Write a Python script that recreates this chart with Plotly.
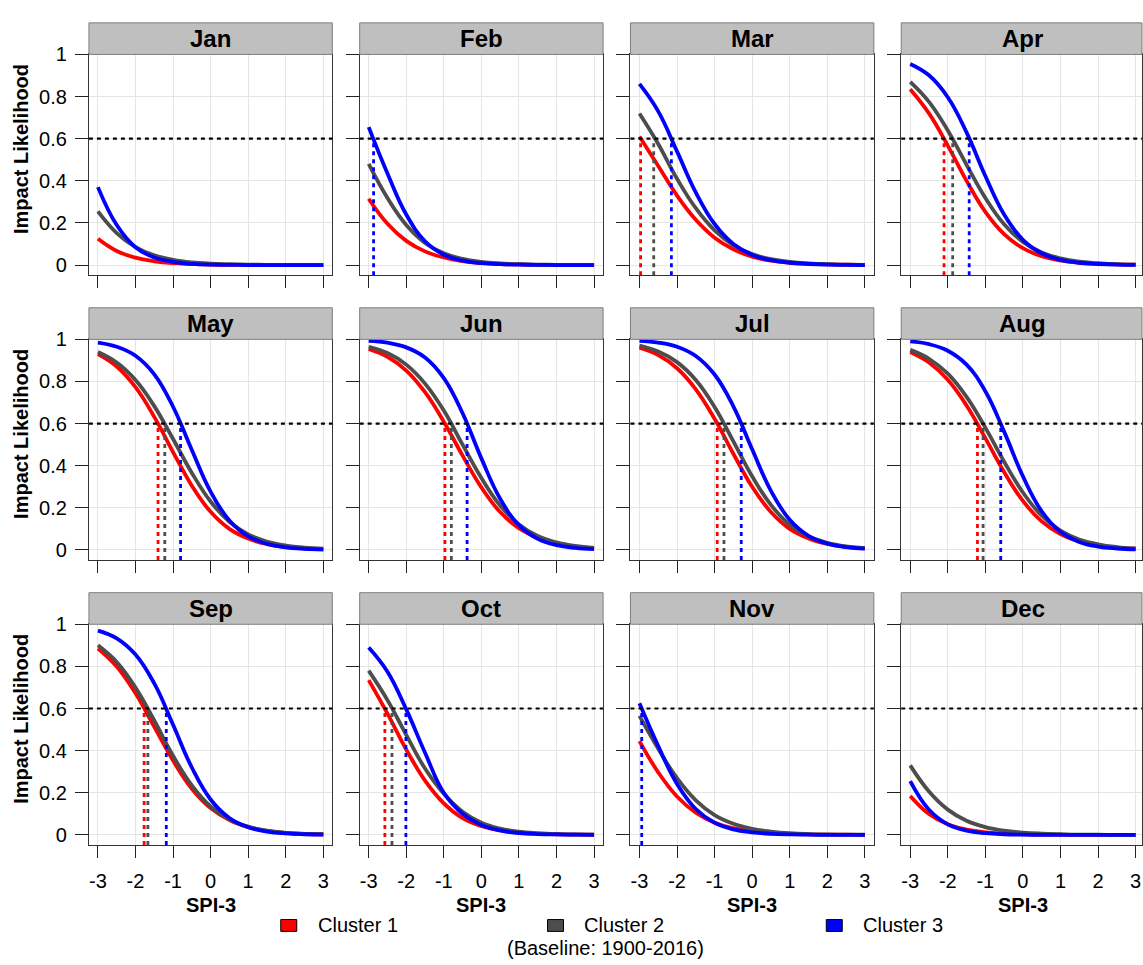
import plotly.graph_objects as go

# ---------------- data ----------------
MONTHS = ["Jan", "Feb", "Mar", "Apr", "May", "Jun",
          "Jul", "Aug", "Sep", "Oct", "Nov", "Dec"]
SPI = [-3, -2.5, -2, -1.5, -1, -0.5, 0, 0.5, 1, 1.5, 2, 2.5, 3]
CLUSTERS = ["Cluster 1", "Cluster 2", "Cluster 3"]
COLORS = ["#FF0000", "#4D4D4D", "#0000FF"]
THRESHOLD = 0.6

C1_VALUES = [
    [0.125, 0.067, 0.035, 0.018, 0.009, 0.005, 0.002, 0.001, 0.001, 0.0, 0.0, 0.0, 0.0],
    [0.315, 0.196, 0.115, 0.065, 0.036, 0.019, 0.010, 0.005, 0.003, 0.001, 0.001, 0.0, 0.0],
    [0.61, 0.47, 0.33, 0.215, 0.13, 0.075, 0.04, 0.021, 0.011, 0.006, 0.003, 0.002, 0.001],
    [0.835, 0.72, 0.567, 0.40, 0.253, 0.147, 0.08, 0.042, 0.022, 0.011, 0.006, 0.003, 0.002],
    [0.93, 0.871, 0.773, 0.632, 0.465, 0.305, 0.181, 0.10, 0.054, 0.028, 0.014, 0.007, 0.004],
    [0.955, 0.917, 0.852, 0.749, 0.609, 0.448, 0.297, 0.18, 0.103, 0.057, 0.03, 0.016, 0.008],
    [0.96, 0.925, 0.863, 0.763, 0.623, 0.457, 0.30, 0.18, 0.10, 0.055, 0.029, 0.015, 0.008],
    [0.94, 0.89, 0.808, 0.686, 0.531, 0.37, 0.233, 0.136, 0.076, 0.041, 0.022, 0.011, 0.006],
    [0.885, 0.799, 0.672, 0.513, 0.353, 0.219, 0.127, 0.07, 0.037, 0.019, 0.01, 0.005, 0.003],
    [0.735, 0.576, 0.405, 0.258, 0.15, 0.08, 0.042, 0.021, 0.011, 0.005, 0.003, 0.001, 0.001],
    [0.445, 0.297, 0.182, 0.105, 0.058, 0.032, 0.017, 0.009, 0.005, 0.002, 0.001, 0.001, 0.0],
    [0.185, 0.099, 0.05, 0.025, 0.012, 0.006, 0.003, 0.001, 0.001, 0.0, 0.0, 0.0, 0.0],
]
C2_VALUES = [
    [0.255, 0.152, 0.085, 0.046, 0.025, 0.013, 0.007, 0.004, 0.002, 0.001, 0.0, 0.0, 0.0],
    [0.48, 0.318, 0.19, 0.105, 0.056, 0.029, 0.015, 0.008, 0.004, 0.002, 0.001, 0.0, 0.0],
    [0.72, 0.575, 0.41, 0.27, 0.165, 0.095, 0.052, 0.028, 0.015, 0.008, 0.004, 0.002, 0.001],
    [0.87, 0.775, 0.639, 0.476, 0.319, 0.194, 0.11, 0.06, 0.032, 0.016, 0.009, 0.004, 0.002],
    [0.94, 0.89, 0.807, 0.683, 0.527, 0.366, 0.23, 0.134, 0.074, 0.04, 0.021, 0.011, 0.006],
    [0.965, 0.935, 0.88, 0.79, 0.662, 0.5, 0.342, 0.211, 0.121, 0.066, 0.036, 0.019, 0.01],
    [0.97, 0.942, 0.892, 0.807, 0.679, 0.516, 0.35, 0.214, 0.12, 0.065, 0.034, 0.017, 0.009],
    [0.95, 0.908, 0.837, 0.727, 0.581, 0.419, 0.273, 0.163, 0.092, 0.05, 0.027, 0.014, 0.007],
    [0.90, 0.821, 0.70, 0.543, 0.376, 0.235, 0.135, 0.074, 0.039, 0.02, 0.01, 0.005, 0.003],
    [0.78, 0.64, 0.475, 0.315, 0.195, 0.11, 0.058, 0.03, 0.015, 0.008, 0.004, 0.002, 0.001],
    [0.565, 0.409, 0.269, 0.164, 0.094, 0.053, 0.029, 0.016, 0.008, 0.004, 0.002, 0.001, 0.001],
    [0.33, 0.206, 0.12, 0.067, 0.037, 0.02, 0.011, 0.006, 0.003, 0.001, 0.001, 0.0, 0.0],
]
C3_VALUES = [
    [0.37, 0.19, 0.085, 0.036, 0.015, 0.006, 0.002, 0.001, 0.0, 0.0, 0.0, 0.0, 0.0],
    [0.655, 0.435, 0.24, 0.113, 0.049, 0.021, 0.009, 0.004, 0.002, 0.001, 0.0, 0.0, 0.0],
    [0.86, 0.73, 0.54, 0.345, 0.195, 0.1, 0.048, 0.023, 0.011, 0.005, 0.002, 0.001, 0.0],
    [0.955, 0.901, 0.797, 0.63, 0.423, 0.24, 0.12, 0.056, 0.025, 0.011, 0.005, 0.002, 0.001],
    [0.985, 0.965, 0.922, 0.834, 0.68, 0.475, 0.277, 0.14, 0.065, 0.029, 0.012, 0.005, 0.002],
    [0.993, 0.984, 0.962, 0.914, 0.816, 0.649, 0.435, 0.243, 0.118, 0.053, 0.023, 0.01, 0.004],
    [0.993, 0.985, 0.965, 0.921, 0.833, 0.682, 0.478, 0.281, 0.143, 0.067, 0.03, 0.013, 0.006],
    [0.99, 0.977, 0.946, 0.88, 0.754, 0.562, 0.35, 0.184, 0.086, 0.038, 0.016, 0.007, 0.003],
    [0.97, 0.933, 0.856, 0.719, 0.523, 0.32, 0.168, 0.08, 0.036, 0.016, 0.007, 0.003, 0.001],
    [0.89, 0.775, 0.596, 0.39, 0.2, 0.1, 0.047, 0.021, 0.009, 0.004, 0.002, 0.001, 0.0],
    [0.625, 0.422, 0.242, 0.123, 0.058, 0.026, 0.012, 0.005, 0.002, 0.001, 0.0, 0.0, 0.0],
    [0.255, 0.119, 0.05, 0.02, 0.008, 0.003, 0.001, 0.0, 0.0, 0.0, 0.0, 0.0, 0.0],
]
# SPI-3 value where each curve crosses the 0.6 threshold (None = no crossing)
C1_CROSS = [None, None, -2.97, -2.10, -1.40, -0.97, -0.93, -1.21, -1.77, -2.57, None, None]
C2_CROSS = [None, None, -2.62, -1.87, -1.22, -0.80, -0.75, -1.06, -1.67, -2.38, None, None]
C3_CROSS = [None, -2.87, -2.15, -1.43, -0.80, -0.38, -0.29, -0.59, -1.18, -2.01, -2.94, None]

X_TICKS = [-3, -2, -1, 0, 1, 2, 3]
X_TICK_TEXT = ["-3", "-2", "-1", "0", "1", "2", "3"]
Y_TICKS = [0, 0.2, 0.4, 0.6, 0.8, 1]
Y_TICK_TEXT = ["0", "0.2", "0.4", "0.6", "0.8", "1"]

VALUES = [C1_VALUES, C2_VALUES, C3_VALUES]
CROSS = [C1_CROSS, C2_CROSS, C3_CROSS]

# ---------------- layout geometry (pixels) ----------------
W, H = 1143, 965
FONT = "Liberation Sans, Arial, Helvetica, sans-serif"
COL_LEFT = [89, 360, 631, 902]
PANEL_W = 243.6
ROW_TOP = [44, 332.5, 621]
PANEL_H = 223.5
STRIP_H = 32
XMIN, XMAX = -3.24, 3.24
YMIN, YMAX = -0.048, 1.0
PX_PER_X = PANEL_W / (XMAX - XMIN)

fig = go.Figure()
layout = dict(
    width=W, height=H,
    margin=dict(l=0, r=0, t=0, b=0),
    paper_bgcolor="white", plot_bgcolor="white",
    showlegend=False,
    font=dict(family=FONT, color="black"),
)
shapes = []
annotations = []

for i, month in enumerate(MONTHS):
    r, c = divmod(i, 4)
    n = i + 1
    xs = "x" if n == 1 else f"x{n}"
    ys = "y" if n == 1 else f"y{n}"
    left = COL_LEFT[c]
    right = min(left + PANEL_W, W)
    top = ROW_TOP[r]
    bottom = top + PANEL_H
    xmax = XMIN + (right - left) / PX_PER_X

    layout["xaxis" if n == 1 else f"xaxis{n}"] = dict(
        domain=[left / W, right / W], anchor=ys,
        range=[XMIN, xmax], tickvals=X_TICKS, ticktext=X_TICK_TEXT,
        showticklabels=(r == 2), ticks="outside", ticklen=12, tickwidth=1,
        tickcolor="#222", showgrid=True, gridcolor="#E5E5E5", gridwidth=1,
        zeroline=False, showline=True, linecolor="#333", linewidth=1, mirror=True,
        tickfont=dict(size=20, color="black", family=FONT),
        ticklabelstandoff=6, fixedrange=True,
    )
    layout["yaxis" if n == 1 else f"yaxis{n}"] = dict(
        domain=[1 - bottom / H, 1 - top / H], anchor=xs,
        range=[YMIN, YMAX], tickvals=Y_TICKS, ticktext=Y_TICK_TEXT,
        showticklabels=(c == 0), ticks="outside", ticklen=13, tickwidth=1,
        tickcolor="#222", showgrid=True, gridcolor="#E5E5E5", gridwidth=1,
        zeroline=False, showline=True, linecolor="#333", linewidth=1, mirror=True,
        tickfont=dict(size=20, color="black", family=FONT),
        ticklabelstandoff=4, fixedrange=True,
    )

    # curves
    for k in range(3):
        fig.add_trace(go.Scatter(
            x=SPI, y=VALUES[k][i], mode="lines", xaxis=xs, yaxis=ys,
            line=dict(color=COLORS[k], width=3.8, shape="spline", smoothing=1.2),
            name=CLUSTERS[k], hoverinfo="skip",
        ))
    # vertical dotted lines at threshold crossings
    for k in range(3):
        xc = CROSS[k][i]
        if xc is not None:
            fig.add_trace(go.Scatter(
                x=[xc, xc], y=[YMIN, THRESHOLD], mode="lines", xaxis=xs, yaxis=ys,
                line=dict(color=COLORS[k], width=2.8, dash="4px,4px"),
                hoverinfo="skip", cliponaxis=True,
            ))
    # horizontal threshold line
    shapes.append(dict(
        type="line", xref=f"{xs} domain", yref=ys, x0=0, x1=1,
        y0=THRESHOLD, y1=THRESHOLD, line=dict(color="black", width=2.2, dash="4px,4px"),
        layer="above",
    ))
    # strip
    shapes.append(dict(
        type="rect", xref="paper", yref="paper",
        x0=left / W, x1=right / W, y0=1 - top / H, y1=1 - (top - STRIP_H) / H,
        fillcolor="#BFBFBF", line=dict(color="#7F7F7F", width=1), layer="above",
    ))
    annotations.append(dict(
        x=(left + PANEL_W / 2) / W, y=1 - (top - STRIP_H / 2) / H,
        xref="paper", yref="paper", text=f"<b>{month}</b>", showarrow=False,
        xanchor="center", yanchor="middle", font=dict(size=24, color="black", family=FONT),
    ))

# y-axis titles (one per row)
for r in range(3):
    top = ROW_TOP[r] - STRIP_H
    bottom = ROW_TOP[r] + PANEL_H
    annotations.append(dict(
        x=21 / W, y=1 - ((top + bottom) / 2) / H, xref="paper", yref="paper",
        text="<b>Impact Likelihood</b>", textangle=-90, showarrow=False,
        xanchor="center", yanchor="middle", font=dict(size=20, color="black", family=FONT),
    ))
# x-axis titles (one per column)
for c in range(4):
    annotations.append(dict(
        x=(COL_LEFT[c] + PANEL_W / 2) / W, y=1 - 905 / H, xref="paper", yref="paper",
        text="<b>SPI-3</b>", showarrow=False, xanchor="center", yanchor="middle",
        font=dict(size=20, color="black", family=FONT),
    ))

# legend key
KEY_X = [281, 548, 827]
for k in range(3):
    shapes.append(dict(
        type="rect", xref="paper", yref="paper",
        x0=KEY_X[k] / W, x1=(KEY_X[k] + 16) / W, y0=1 - 932 / H, y1=1 - 920 / H,
        fillcolor=COLORS[k], line=dict(color="black", width=1),
    ))
    annotations.append(dict(
        x=(KEY_X[k] + 35) / W, y=1 - 926 / H, xref="paper", yref="paper",
        text=CLUSTERS[k], showarrow=False, xanchor="left", yanchor="middle",
        font=dict(size=20, color="black", family=FONT),
    ))
annotations.append(dict(
    x=606 / W, y=1 - 949 / H, xref="paper", yref="paper",
    text="(Baseline: 1900-2016)", showarrow=False, xanchor="center", yanchor="middle",
    font=dict(size=20, color="black", family=FONT),
))

layout["shapes"] = shapes
layout["annotations"] = annotations
fig.update_layout(**layout)
fig.write_html(
    "out.html",
    config={"displayModeBar": False, "staticPlot": True},
    post_script="document.body.style.margin='0';document.body.style.overflow='hidden';",
)
